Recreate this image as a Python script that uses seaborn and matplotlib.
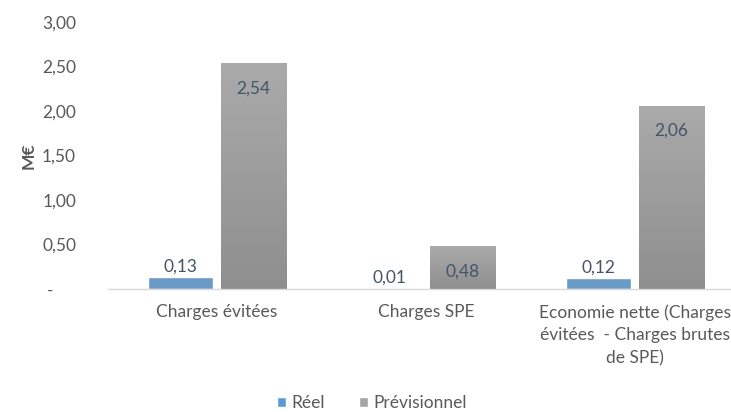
import numpy as np
import pandas as pd
import matplotlib.pyplot as plt
import seaborn as sns
from matplotlib.patches import Patch
from matplotlib.colors import LinearSegmentedColormap

# data (M€)
categories = [
    "Charges évitées",
    "Charges SPE",
    "Economie nette (Charges\névitées  - Charges brutes\nde SPE)",
]
series = ["Réel", "Prévisionnel"]
reel = [0.13, 0.01, 0.12]
previsionnel = [2.54, 0.48, 2.06]
y_ticks = [0, 0.5, 1.0, 1.5, 2.0, 2.5, 3.0]

df = pd.DataFrame({
    "Catégorie": categories * 2,
    "Valeur": reel + previsionnel,
    "Série": [series[0]] * 3 + [series[1]] * 3,
})

sns.set_theme(style="white")
plt.rcParams["font.family"] = ["Lato", "DejaVu Sans"]
text_col = "#595959"
label_col = "#44546A"
blue = "#5B9BD5"
grey = "#A5A5A5"
fs = 12.5

fig = plt.figure(figsize=(7.31, 4.12), dpi=100)
ax = fig.add_axes([108 / 731, 1 - 289 / 412, 1 - 108 / 731, (289 - 22) / 412])

sns.barplot(data=df, x="Catégorie", y="Valeur", hue="Série",
            palette=[blue, grey], width=0.7, gap=0.11, ax=ax, legend=False)

# vertical gradient on the grey bars (light top, darker bottom)
grad = np.linspace(0, 1, 100).reshape(-1, 1)
cmap = LinearSegmentedColormap.from_list("g", ["#8F8F8F", "#AAAAAA"])
for p in ax.containers[1]:
    x0, y0 = p.get_x(), p.get_y()
    w, h = p.get_width(), p.get_height()
    im = ax.imshow(grad, cmap=cmap, aspect="auto", origin="lower",
                   extent=(x0, x0 + w, y0, y0 + h), zorder=p.get_zorder() + 0.1)
    im.set_clip_path(p)

ax.set_xlim(-0.52, 2.46)
ax.set_ylim(0, 3.0)

fmt = lambda v: f"{v:.2f}".replace(".", ",")
ax.bar_label(ax.containers[0], labels=[fmt(v) for v in reel], padding=2,
             fontsize=fs, color=label_col)
ax.bar_label(ax.containers[1], labels=[fmt(v) for v in previsionnel], padding=-24,
             fontsize=fs, color=label_col, zorder=5)

ax.set_yticks(y_ticks)
ax.set_yticklabels(["-     " if v == 0 else fmt(v) for v in y_ticks])
ax.tick_params(axis="y", length=0, pad=23, labelsize=fs, labelcolor=text_col)
ax.tick_params(axis="x", length=0, pad=11, labelsize=fs, labelcolor=text_col)
for t in ax.get_xticklabels():
    t.set_linespacing(1.5)
ax.set_xlabel("")
ax.set_ylabel("M€", fontsize=fs, fontweight="bold", color=text_col, labelpad=4)

for s in ["top", "right", "left"]:
    ax.spines[s].set_visible(False)
ax.spines["bottom"].set_color("#D9D9D9")
ax.spines["bottom"].set_linewidth(1)

handles = [Patch(facecolor=blue), Patch(facecolor=grey)]
fig.legend(handles, series, loc="lower center", bbox_to_anchor=(372 / 731, -0.035),
           ncol=2, frameon=False, fontsize=fs, handlelength=0.5, handleheight=0.5,
           handletextpad=0.3, columnspacing=2.0, labelcolor=text_col)

fig.savefig("out.png", dpi=100)
